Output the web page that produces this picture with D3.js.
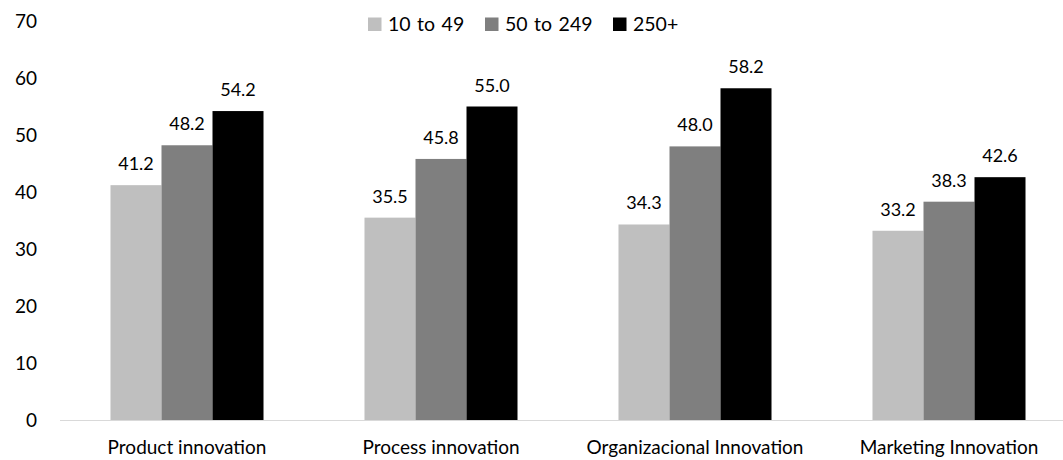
<!DOCTYPE html>
<html>
<head>
<meta charset="utf-8">
<script src="https://cdn.jsdelivr.net/npm/d3@7"></script>
<style>
  html, body { margin: 0; padding: 0; background: #fff; }
  svg { display: block; }
  text { font-family: Lato, "Open Sans", sans-serif; fill: #000; }
</style>
</head>
<body>
<svg id="chart" width="1063" height="460"></svg>
<script>
const categories = ["Product innovation", "Process innovation", "Organizacional Innovation", "Marketing Innovation"];
const seriesNames = ["10 to 49", "50 to 249", "250+"];
const series1 = [41.2, 35.5, 34.3, 33.2];
const series2 = [48.2, 45.8, 48.0, 38.3];
const series3 = [54.2, 55.0, 58.2, 42.6];
const yTicks = [0, 10, 20, 30, 40, 50, 60, 70];
const colors = ["#bfbfbf", "#7f7f7f", "#000000"];

const allSeries = [series1, series2, series3];
const W = 1063, H = 460;
const mLeft = 60, mRight = 1076, mTop = 21, mBottom = 420;

const svg = d3.select("#chart");

const x0 = d3.scaleBand().domain(categories).range([mLeft, mRight]).paddingInner(0.3976).paddingOuter(0.1988);
const x1 = d3.scaleBand().domain(seriesNames).range([0, x0.bandwidth()]).padding(0);
const y = d3.scaleLinear().domain([0, 70]).range([mBottom, mTop]);

// y axis labels
const yAxis = d3.axisLeft(y).tickValues(yTicks).tickSize(0).tickPadding(0).tickFormat(d3.format("d"));
const yg = svg.append("g").attr("transform", `translate(37,0)`).call(yAxis);
yg.select(".domain").remove();
yg.selectAll("text").style("font-size", "19px").style("font-family", "Lato, 'Open Sans', sans-serif").attr("fill", "#000").attr("dy", "0.35em");

// bars
const groups = svg.append("g").selectAll("g")
  .data(categories)
  .join("g")
  .attr("transform", d => `translate(${x0(d)},0)`);

groups.selectAll("rect")
  .data((d, i) => seriesNames.map((s, j) => ({ s, v: allSeries[j][i], j })))
  .join("rect")
  .attr("x", d => x1(d.s))
  .attr("width", x1.bandwidth())
  .attr("y", d => y(d.v))
  .attr("height", d => y(0) - y(d.v))
  .attr("fill", d => colors[d.j]);

groups.selectAll("text.val")
  .data((d, i) => seriesNames.map((s, j) => ({ s, v: allSeries[j][i], j })))
  .join("text")
  .attr("class", "val")
  .attr("x", d => x1(d.s) + x1.bandwidth() / 2)
  .attr("y", d => y(d.v) - 15)
  .attr("text-anchor", "middle")
  .style("font-size", "18px")
  .text(d => d.v.toFixed(1));

// x axis line
svg.append("line")
  .attr("x1", mLeft).attr("x2", W)
  .attr("y1", mBottom + 0.5).attr("y2", mBottom + 0.5)
  .attr("stroke", "#d9d9d9").attr("stroke-width", 1);

// category labels
const xAxis = d3.axisBottom(x0).tickSize(0).tickPadding(0);
const xg = svg.append("g").attr("transform", `translate(0,${mBottom})`).call(xAxis);
xg.select(".domain").remove();
xg.selectAll("text").style("font-size", "19px").style("font-family", "Lato, 'Open Sans', sans-serif")
  .attr("fill", "#000").attr("dy", null).attr("y", 34);

// legend
const legendX = [368, 485, 613];
const lg = svg.append("g").selectAll("g").data(seriesNames).join("g")
  .attr("transform", (d, i) => `translate(${legendX[i]},17.5)`);
lg.append("rect").attr("width", 13.5).attr("height", 13.5).attr("fill", (d, i) => colors[i]);
lg.append("text").attr("x", 20).attr("y", 13.8)
  .style("font-size", "19.5px").style("word-spacing", "1.5px").text(d => d);
</script>
</body>
</html>
